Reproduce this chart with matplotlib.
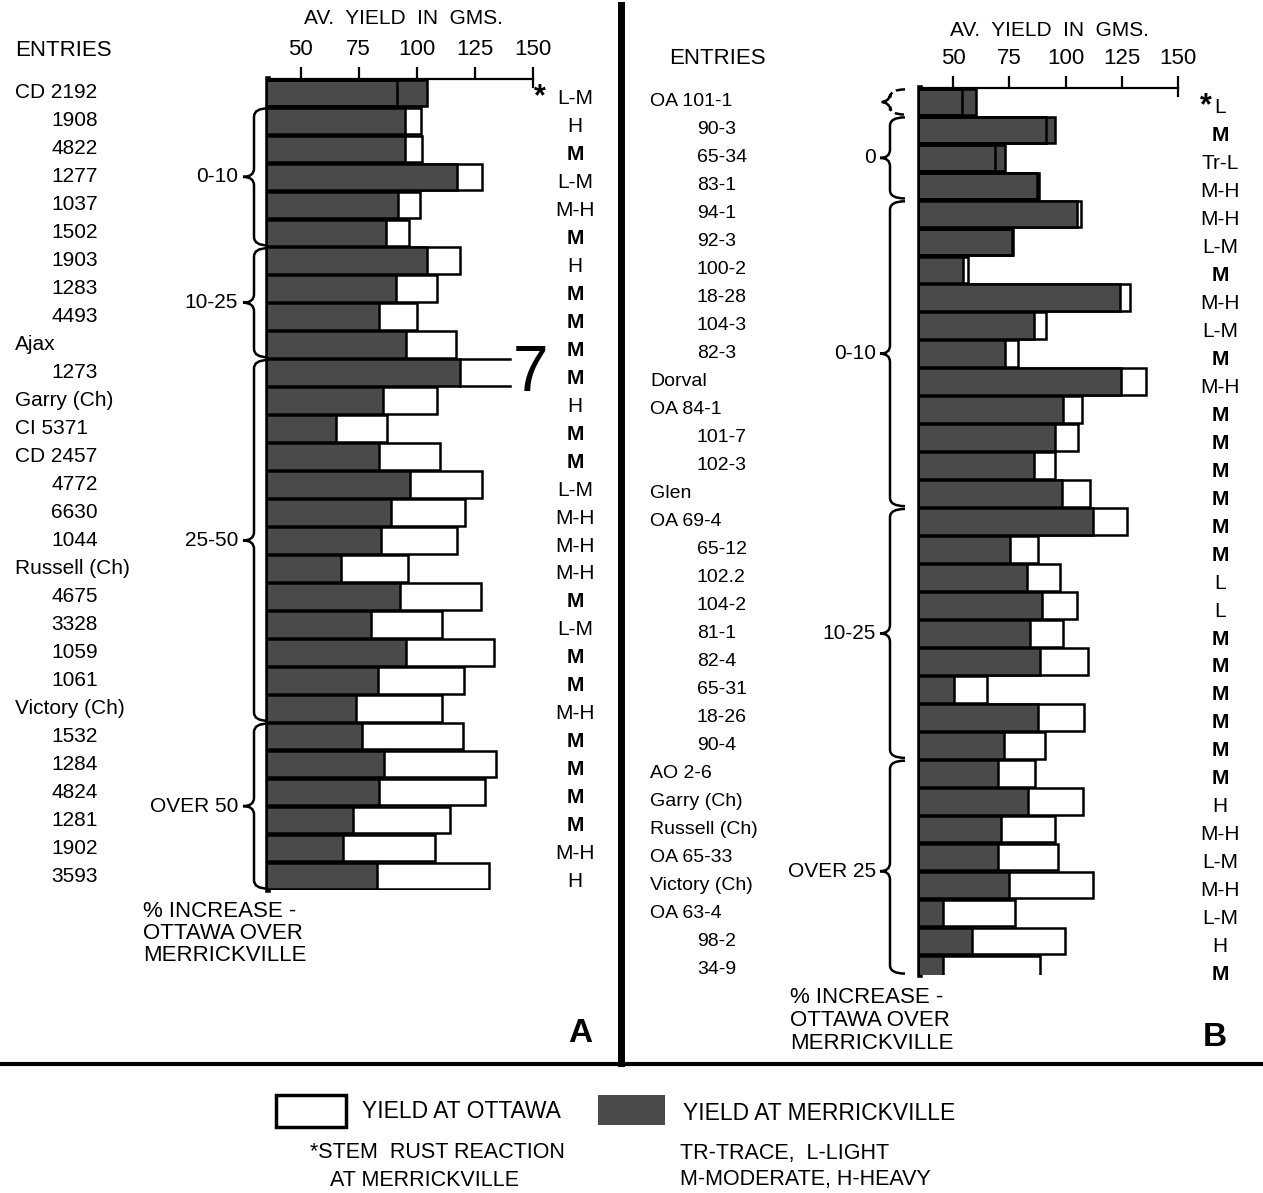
import matplotlib
matplotlib.use("Agg")
import matplotlib.pyplot as plt
import matplotlib.transforms as mtransforms
from matplotlib.patches import Rectangle, PathPatch
from matplotlib.lines import Line2D
from matplotlib.path import Path

plt.rcParams['font.family'] = ['Liberation Sans', 'DejaVu Sans']

# ---------------- Data: panel A ----------------
entries_a = ["CD 2192", "1908", "4822", "1277", "1037", "1502", "1903", "1283", "4493", "Ajax",
             "1273", "Garry (Ch)", "CI 5371", "CD 2457", "4772", "6630", "1044", "Russell (Ch)",
             "4675", "3328", "1059", "1061", "Victory (Ch)", "1532", "1284", "4824", "1281",
             "1902", "3593"]
ottawa_a = [91.4, 102.0, 102.4, 128.2, 101.3, 96.7, 118.8, 108.9, 99.9, 116.8,
            140.0, 108.5, 87.3, 109.9, 128.0, 120.7, 117.1, 96.3, 127.5, 110.9,
            133.2, 120.3, 110.9, 119.7, 134.1, 129.3, 114.2, 107.8, 131.1]
merrick_a = [104.3, 95.1, 94.8, 117.1, 92.0, 86.9, 104.2, 90.9, 83.8, 95.5,
             118.5, 85.5, 65.4, 83.8, 97.2, 89.1, 84.8, 67.5, 92.7, 80.5,
             95.3, 83.3, 74.0, 76.6, 85.8, 83.8, 72.5, 68.2, 82.9]
rust_a = ["L-M", "H", "M", "L-M", "M-H", "M", "H", "M", "M", "M", "M", "H", "M", "M", "L-M",
          "M-H", "M-H", "M-H", "M", "L-M", "M", "M", "M-H", "M", "M", "M", "M", "M-H", "H"]
groups_a = [("0-10", 1, 5), ("10-25", 6, 9), ("25-50", 10, 22), ("OVER 50", 23, 28)]
open_row_a = 10  # Ottawa bar drawn open-ended ("7")

# ---------------- Data: panel B ----------------
entries_b = ["OA 101-1", "90-3", "65-34", "83-1", "94-1", "92-3", "100-2", "18-28", "104-3",
             "82-3", "Dorval", "OA 84-1", "101-7", "102-3", "Glen", "OA 69-4", "65-12", "102.2",
             "104-2", "81-1", "82-4", "65-31", "18-26", "90-4", "AO 2-6", "Garry (Ch)",
             "Russell (Ch)", "OA 65-33", "Victory (Ch)", "OA 63-4", "98-2", "34-9"]
ottawa_b = [53.9, 91.2, 68.7, 87.5, 106.9, 76.2, 56.8, 128.7, 91.2, 79.0,
            135.6, 107.2, 105.7, 95.3, 110.9, 127.5, 87.9, 97.6, 105.0, 98.7,
            110.1, 65.3, 108.2, 90.9, 86.4, 107.9, 95.3, 96.8, 112.1, 77.6,
            99.8, 88.7]
merrick_b = [60.2, 95.3, 73.1, 88.4, 105.0, 76.8, 54.6, 124.2, 86.0, 73.1,
             124.5, 98.7, 95.3, 86.0, 98.3, 112.4, 75.3, 82.7, 89.4, 84.2,
             88.7, 50.4, 87.9, 72.7, 70.1, 83.5, 71.2, 70.1, 75.0, 45.7,
             58.3, 45.7]
rust_b = ["L", "M", "Tr-L", "M-H", "M-H", "L-M", "M", "M-H", "L-M", "M", "M-H", "M", "M", "M",
          "M", "M", "M", "L", "L", "M", "M", "M", "M", "M", "M", "H", "M-H", "L-M", "M-H",
          "L-M", "H", "M"]
groups_b = [("", 0, 0), ("0", 1, 3), ("0-10", 4, 14), ("10-25", 15, 23), ("OVER 25", 24, 31)]

ticks = [50, 75, 100, 125, 150]

# ---------------- Figure (pixel layout) ----------------
W, H = 1263, 1193
fig = plt.figure(figsize=(W / 100, H / 100), dpi=100)
DARK = '#4a4a4a'
ROW = 27.97  # px per row


def fx(px):
    return px / W


def fy(py):
    return 1 - py / H


def panel(left, right, top, bottom, xmin, nrows_vis):
    ax = fig.add_axes([fx(left), fy(bottom), (right - left) / W, (bottom - top) / H])
    ax.set_xlim(xmin, 150)
    ax.set_ylim(-0.5 + nrows_vis, -0.5)
    for s in ['right', 'bottom']:
        ax.spines[s].set_visible(False)
    ax.spines['left'].set_linewidth(4)
    ax.spines['top'].set_linewidth(1.6)
    ax.xaxis.tick_top()
    ax.set_xticks(ticks)
    ax.set_xticklabels([str(t) for t in ticks])
    ax.tick_params(axis='x', direction='out', length=9, width=1.6, pad=5, labelsize=16)
    ax.set_yticks([])
    # little hook at 150
    ax.plot([150, 150], [-0.5, -0.2], color='k', lw=1.6, clip_on=False)
    return ax


def draw_bars(ax, ottawa, merrick, open_row=None):
    n = len(ottawa)
    for i in range(n):
        if i == open_row:
            ax.barh(i, ottawa[i], height=0.95, color='white', edgecolor='none', zorder=2)
            ax.plot([merrick[i], ottawa[i]], [i - 0.475, i - 0.475], color='k', lw=1.8, zorder=4)
            ax.plot([merrick[i], ottawa[i]], [i + 0.475, i + 0.475], color='k', lw=1.8, zorder=4)
        else:
            ax.barh(i, ottawa[i], height=0.95, color='white', edgecolor='k', lw=1.8, zorder=2)
        ax.barh(i, merrick[i], height=0.95, color=DARK, edgecolor='k', lw=1.8, zorder=3)
        if ottawa[i] < merrick[i]:
            ax.barh(i, ottawa[i], height=0.95, fill=False, edgecolor='k', lw=1.8, zorder=4)


def draw_entries(ax, entries, x_name, x_num, num_ha, size):
    tr = mtransforms.blended_transform_factory(fig.transFigure, ax.transData)
    for i, e in enumerate(entries):
        if e[0].isdigit():
            ax.text(fx(x_num), i, e, ha=num_ha, va='center', fontsize=size, transform=tr)
        else:
            ax.text(fx(x_name), i, e, ha='left', va='center', fontsize=size, transform=tr)


def draw_rust(ax, rust, xc, star_x):
    tr = mtransforms.blended_transform_factory(fig.transFigure, ax.transData)
    for i, r in enumerate(rust):
        ax.text(fx(xc), i + 0.2, r, ha='center', va='center', fontsize=15,
                fontweight='bold' if r == 'M' else 'normal', transform=tr)
    ax.text(fx(star_x), 0.15, '*', ha='center', va='center', fontsize=22,
            fontweight='bold', transform=tr)


def draw_braces(ax, groups, ax_left, ax_w, x_vert, x_end, x_tip, x_lab, ymax):
    tr = mtransforms.blended_transform_factory(ax.transAxes, ax.transData)
    trt = mtransforms.blended_transform_factory(fig.transFigure, ax.transData)
    f = lambda px: (px - ax_left) / ax_w
    for lab, i0, i1 in groups:
        y0, y1 = i0 - 0.5 + 0.05, min(i1 + 0.5, ymax) - 0.05
        ym = (i0 - 0.5 + i1 + 0.5) / 2
        r = 0.3
        verts = [(f(x_end), y0), (f(x_vert), y0), (f(x_vert), y0 + r),
                 (f(x_vert), ym - r),
                 (f(x_vert), ym), (f(x_tip), ym),
                 (f(x_vert), ym), (f(x_vert), ym + r),
                 (f(x_vert), y1 - r),
                 (f(x_vert), y1), (f(x_end), y1)]
        codes = [Path.MOVETO, Path.CURVE3, Path.CURVE3, Path.LINETO,
                 Path.CURVE3, Path.CURVE3, Path.CURVE3, Path.CURVE3,
                 Path.LINETO, Path.CURVE3, Path.CURVE3]
        ls = '--' if lab == '' else '-'
        ax.add_patch(PathPatch(Path(verts, codes), fill=False, lw=1.8, ls=ls,
                               transform=tr, clip_on=False))
        if lab:
            ax.text(fx(x_lab), ym, lab, ha='right', va='center', fontsize=15, transform=trt)


# ---------------- Panel A ----------------
axA = panel(268, 533, 79, 890, 36, len(entries_a))
draw_bars(axA, ottawa_a, merrick_a, open_row=open_row_a)
draw_entries(axA, entries_a, 15, 98, 'right', 15)
draw_rust(axA, rust_a, 575, 540)
draw_braces(axA, groups_a, 268, 265, 254, 268, 243, 238, len(entries_a) - 0.5)
fig.text(fx(530), fy(374), '7', ha='center', va='center', fontsize=46, fontweight='light')

# ---------------- Panel B ----------------
axB = panel(920, 1178, 88, 975, 35.3, 887 / ROW)
draw_bars(axB, ottawa_b, merrick_b)
draw_entries(axB, entries_b, 650, 697, 'left', 14)
draw_rust(axB, rust_b, 1220, 1206)
draw_braces(axB, groups_b, 920, 258, 890, 905, 880, 876, 887 / ROW - 0.5)

# ---------------- Titles & notes ----------------
fig.text(fx(404), fy(18), 'AV.  YIELD  IN  GMS.', ha='center', va='center', fontsize=15)
fig.text(fx(1050), fy(30), 'AV.  YIELD  IN  GMS.', ha='center', va='center', fontsize=15)
fig.text(fx(63), fy(50), 'ENTRIES', ha='center', va='center', fontsize=16)
fig.text(fx(717), fy(58), 'ENTRIES', ha='center', va='center', fontsize=16)

fig.text(fx(143), fy(901), '% INCREASE -\nOTTAWA OVER\nMERRICKVILLE', ha='left', va='top',
         fontsize=16, linespacing=1.05)
fig.text(fx(790), fy(987), '% INCREASE -\nOTTAWA OVER\nMERRICKVILLE', ha='left', va='top',
         fontsize=16, linespacing=1.12)
fig.text(fx(580), fy(1034), 'A', ha='center', va='center', fontsize=24, fontweight='bold')
fig.text(fx(1215), fy(1038), 'B', ha='center', va='center', fontsize=24, fontweight='bold')

# dividers
fig.add_artist(Line2D([fx(621), fx(621)], [fy(5), fy(1063)], color='k', lw=5))
fig.add_artist(Line2D([0, 1], [fy(1064), fy(1064)], color='k', lw=3))

# ---------------- Key ----------------
fig.add_artist(Rectangle((fx(276), fy(1127)), 70 / W, 32 / H, transform=fig.transFigure,
                         facecolor='white', edgecolor='k', lw=2.5))
fig.text(fx(362), fy(1112), 'YIELD AT OTTAWA', ha='left', va='center', fontsize=16.5)
fig.add_artist(Rectangle((fx(598), fy(1125)), 67 / W, 30 / H, transform=fig.transFigure,
                         facecolor=DARK, edgecolor='none'))
fig.text(fx(683), fy(1113), 'YIELD AT MERRICKVILLE', ha='left', va='center', fontsize=16.5)
fig.text(fx(310), fy(1153), '*STEM  RUST REACTION', ha='left', va='center', fontsize=15.5)
fig.text(fx(330), fy(1180), 'AT MERRICKVILLE', ha='left', va='center', fontsize=15.5)
fig.text(fx(680), fy(1153), 'TR-TRACE,  L-LIGHT', ha='left', va='center', fontsize=15.5)
fig.text(fx(680), fy(1180), 'M-MODERATE, H-HEAVY', ha='left', va='center', fontsize=15.5)

fig.savefig('out.png', dpi=100)
